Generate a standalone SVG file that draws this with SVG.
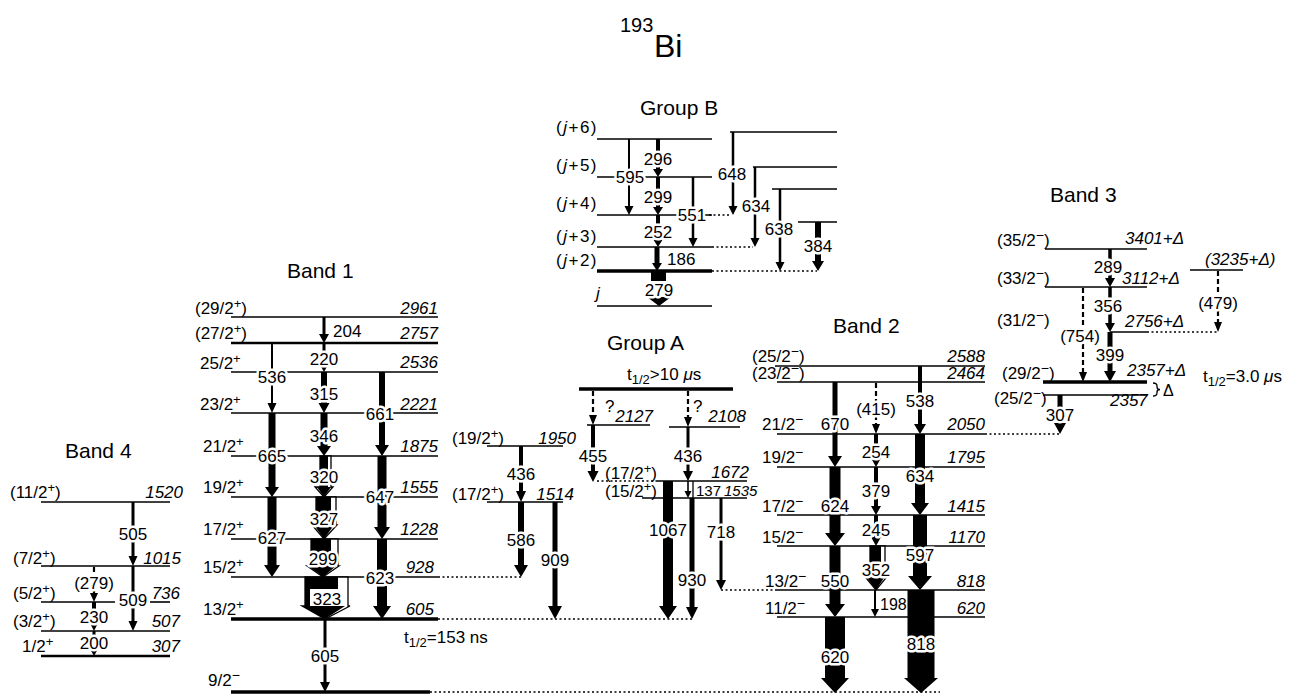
<svg xmlns="http://www.w3.org/2000/svg" width="1299" height="696" viewBox="0 0 1299 696">
<style>
text{font-family:"Liberation Sans",Arial,sans-serif;font-size:17px;fill:#000}
.lv{stroke:#000;stroke-width:1.6}
.tk{stroke:#000;stroke-width:3.5}
.dot{stroke:#000;stroke-width:1.6;stroke-dasharray:2 2.5}
.dsh{stroke:#000;stroke-width:2.2;stroke-dasharray:5 3}
.e{font-style:italic}
.r{text-anchor:end}
.n{text-anchor:middle;paint-order:stroke;stroke:#fff;stroke-width:5px;stroke-linejoin:round}
.ttl{font-size:21px}
.s{font-size:13px}
.m{font-size:14px}
.jl{letter-spacing:1.5px}
polygon{fill:#000}
.ic{fill:#fff;stroke:#000;stroke-width:1.3}
</style>
<rect width="1299" height="696" fill="#fff"/>
<g id="title"><text x="620" y="32" style="font-size:20px">193</text><text x="654" y="57" style="font-size:32px">Bi</text></g>

<!-- Band 4 -->
<g id="band4">
<text class="ttl" x="65" y="458">Band 4</text>
<g id="b4_1520"><line class="lv" x1="41" y1="502" x2="170" y2="502"/><text x="10" y="498">(11/2<tspan class="s" dy="-6">+</tspan><tspan dy="6">)</tspan></text><text class="e r" x="183" y="498">1520</text></g>
<g id="b4_1015"><line class="lv" x1="41" y1="566" x2="170" y2="566"/><text x="13" y="564">(7/2<tspan class="s" dy="-6">+</tspan><tspan dy="6">)</tspan></text><text class="e r" x="181" y="564">1015</text></g>
<g id="b4_736"><line class="lv" x1="41" y1="602" x2="115" y2="602"/><line class="lv" x1="150" y1="602" x2="170" y2="602"/><text x="13" y="599">(5/2<tspan class="s" dy="-6">+</tspan><tspan dy="6">)</tspan></text><text class="e r" x="180" y="599">736</text></g>
<g id="b4_507"><line class="lv" x1="41" y1="631" x2="170" y2="631"/><text x="13" y="627">(3/2<tspan class="s" dy="-6">+</tspan><tspan dy="6">)</tspan></text><text class="e r" x="180" y="627">507</text></g>
<g id="b4_307"><line class="lv" x1="41" y1="656" x2="170" y2="656" style="stroke-width:2.6"/><text x="22" y="652">1/2<tspan class="s" dy="-6">+</tspan></text><text class="e r" x="180" y="652">307</text></g>
</g>

<!-- Band 1 -->
<g id="band1">
<text class="ttl" x="287" y="278">Band 1</text>
<g id="b1_2961"><line class="lv" x1="231" y1="317" x2="438" y2="317"/><text x="195" y="314">(29/2<tspan class="s" dy="-6">+</tspan><tspan dy="6">)</tspan></text><text class="e r" x="438" y="314">2961</text></g>
<g id="b1_2757"><line class="lv" x1="231" y1="343" x2="438" y2="343" style="stroke-width:2.4"/><text x="195" y="339">(27/2<tspan class="s" dy="-6">+</tspan><tspan dy="6">)</tspan></text><text class="e r" x="438" y="339">2757</text></g>
<g id="b1_2536"><line class="lv" x1="231" y1="372" x2="438" y2="372"/><text x="200" y="369">25/2<tspan class="s" dy="-6">+</tspan></text><text class="e r" x="438" y="368">2536</text></g>
<g id="b1_2221"><line class="lv" x1="231" y1="413" x2="438" y2="413"/><text x="200" y="410">23/2<tspan class="s" dy="-6">+</tspan></text><text class="e r" x="438" y="410">2221</text></g>
<g id="b1_1875"><line class="lv" x1="231" y1="456" x2="438" y2="456"/><text x="203" y="452">21/2<tspan class="s" dy="-6">+</tspan></text><text class="e r" x="438" y="452">1875</text></g>
<g id="b1_1555"><line class="lv" x1="231" y1="497" x2="438" y2="497"/><text x="203" y="493">19/2<tspan class="s" dy="-6">+</tspan></text><text class="e r" x="438" y="493">1555</text></g>
<g id="b1_1228"><line class="lv" x1="231" y1="539" x2="438" y2="539"/><text x="203" y="535">17/2<tspan class="s" dy="-6">+</tspan></text><text class="e r" x="438" y="535">1228</text></g>
<g id="b1_928"><line class="lv" x1="231" y1="577" x2="438" y2="577"/><text x="203" y="573">15/2<tspan class="s" dy="-6">+</tspan></text><text class="e r" x="434" y="573">928</text></g>
<g id="b1_605"><line class="tk" x1="231" y1="619" x2="438" y2="619"/><text x="203" y="615">13/2<tspan class="s" dy="-6">+</tspan></text><text class="e r" x="434" y="615">605</text><text x="404" y="643">t<tspan class="s" dy="4">1/2</tspan><tspan dy="-4">=153 ns</tspan></text></g>
<g id="b1_gs"><line class="tk" x1="231" y1="692" x2="430" y2="692"/><text x="208" y="686">9/2<tspan class="m" dy="-6">−</tspan></text></g>
</g>

<!-- Group A -->
<g id="groupA">
<text class="ttl" x="607" y="350">Group A</text>
<g id="gA_iso"><line class="tk" x1="579" y1="389" x2="733" y2="389"/><text x="627" y="380">t<tspan class="s" dy="4">1/2</tspan><tspan dy="-4">&gt;10 </tspan><tspan class="e">μ</tspan>s</text></g>
<g id="gA_2127"><line class="lv" x1="587" y1="425" x2="650" y2="425"/><text class="e r" x="653" y="422">2127</text></g>
<g id="gA_2108"><line class="lv" x1="669" y1="427" x2="740" y2="427"/><text class="e r" x="746" y="422">2108</text></g>
<g id="gA_1950"><line class="lv" x1="487" y1="446" x2="563" y2="446"/><text x="452" y="444">(19/2<tspan class="s" dy="-6">+</tspan><tspan dy="6">)</tspan></text><text class="e r" x="576" y="444">1950</text></g>
<g id="gA_1514"><line class="lv" x1="487" y1="502" x2="563" y2="502"/><text x="452" y="500">(17/2<tspan class="s" dy="-6">+</tspan><tspan dy="6">)</tspan></text><text class="e r" x="574" y="500">1514</text></g>
<g id="gA_1672"><line class="lv" x1="657" y1="481" x2="747" y2="481"/><text x="605" y="479">(17/2<tspan class="s" dy="-6">+</tspan><tspan dy="6">)</tspan></text><text class="e r" x="749" y="478">1672</text></g>
<g id="gA_1535"><line class="lv" x1="642" y1="498" x2="747" y2="498"/><text x="605" y="497">(15/2<tspan class="s" dy="-6">+</tspan><tspan dy="6">)</tspan></text><text class="e" x="724" y="496" style="font-size:15px">1535</text></g>
</g>

<!-- Group B -->
<g id="groupB">
<text class="ttl" x="640" y="115">Group B</text>
<g id="gB_j6"><line class="lv" x1="597" y1="139" x2="712" y2="139"/><text class="jl" x="556" y="133">(<tspan class="e">j</tspan>+6)</text></g>
<g id="gB_j5"><line class="lv" x1="597" y1="177" x2="712" y2="177"/><text class="jl" x="556" y="171">(<tspan class="e">j</tspan>+5)</text></g>
<g id="gB_j4"><line class="lv" x1="597" y1="215" x2="712" y2="215"/><text class="jl" x="556" y="209">(<tspan class="e">j</tspan>+4)</text></g>
<g id="gB_j3"><line class="lv" x1="597" y1="247" x2="712" y2="247"/><text class="jl" x="556" y="242">(<tspan class="e">j</tspan>+3)</text></g>
<g id="gB_j2"><line class="tk" x1="597" y1="271" x2="712" y2="271"/><text class="jl" x="556" y="266">(<tspan class="e">j</tspan>+2)</text></g>
<g id="gB_j"><line class="lv" x1="597" y1="306" x2="712" y2="306"/><text class="e" x="596" y="299">j</text></g>
<g id="gB_r1"><line class="lv" x1="730" y1="132" x2="837" y2="132"/></g>
<g id="gB_r2"><line class="lv" x1="753" y1="167" x2="837" y2="167"/></g>
<g id="gB_r3"><line class="lv" x1="772" y1="189" x2="837" y2="189"/></g>
<g id="gB_r4"><line class="lv" x1="798" y1="222" x2="837" y2="222"/></g>
</g>

<!-- Band 2 -->
<g id="band2">
<text class="ttl" x="833" y="333">Band 2</text>
<g id="b2_2588"><line class="lv" x1="775" y1="366" x2="985" y2="366"/><text x="752" y="362">(25/2<tspan class="m" dy="-6">−</tspan><tspan dy="6">)</tspan></text><text class="e r" x="985" y="362">2588</text></g>
<g id="b2_2464"><line class="lv" x1="777" y1="382" x2="985" y2="382"/><text x="752" y="379">(23/2<tspan class="m" dy="-6">−</tspan><tspan dy="6">)</tspan></text><text class="e r" x="985" y="379">2464</text></g>
<g id="b2_2050"><line class="lv" x1="777" y1="434" x2="985" y2="434"/><text x="762" y="430">21/2<tspan class="m" dy="-6">−</tspan></text><text class="e r" x="985" y="430">2050</text></g>
<g id="b2_1795"><line class="lv" x1="777" y1="467" x2="985" y2="467"/><text x="762" y="463">19/2<tspan class="m" dy="-6">−</tspan></text><text class="e r" x="985" y="463">1795</text></g>
<g id="b2_1415"><line class="lv" x1="777" y1="515" x2="985" y2="515"/><text x="762" y="512">17/2<tspan class="m" dy="-6">−</tspan></text><text class="e r" x="985" y="512">1415</text></g>
<g id="b2_1170"><line class="lv" x1="777" y1="546" x2="985" y2="546"/><text x="762" y="543">15/2<tspan class="m" dy="-6">−</tspan></text><text class="e r" x="985" y="543">1170</text></g>
<g id="b2_818"><line class="lv" x1="777" y1="590" x2="985" y2="590"/><text x="765" y="587">13/2<tspan class="m" dy="-6">−</tspan></text><text class="e r" x="985" y="587">818</text></g>
<g id="b2_620"><line class="lv" x1="777" y1="617" x2="985" y2="617"/><text x="765" y="614">11/2<tspan class="m" dy="-6">−</tspan></text><text class="e r" x="985" y="614">620</text></g>
</g>

<!-- Band 3 -->
<g id="band3">
<text class="ttl" x="1050" y="202">Band 3</text>
<g id="b3_3401"><line class="lv" x1="1045" y1="249" x2="1147" y2="249"/><text x="997" y="246">(35/2<tspan class="m" dy="-6">−</tspan><tspan dy="6">)</tspan></text><text class="e" x="1125" y="244">3401+Δ</text></g>
<g id="b3_3112"><line class="lv" x1="1045" y1="287" x2="1147" y2="287"/><text x="997" y="284">(33/2<tspan class="m" dy="-6">−</tspan><tspan dy="6">)</tspan></text><text class="e" x="1122" y="284">3112+Δ</text></g>
<g id="b3_3235"><line class="lv" x1="1190" y1="270" x2="1243" y2="270"/><text class="e" x="1205" y="265">(3235+Δ)</text></g>
<g id="b3_2756"><line class="lv" x1="1110" y1="332" x2="1147" y2="332"/><text x="997" y="326">(31/2<tspan class="m" dy="-6">−</tspan><tspan dy="6">)</tspan></text><text class="e" x="1125" y="327">2756+Δ</text></g>
<g id="b3_2357d"><line class="tk" x1="1043" y1="382" x2="1147" y2="382"/><text x="1002" y="379">(29/2<tspan class="m" dy="-6">−</tspan><tspan dy="6">)</tspan></text><text class="e" x="1127" y="376">2357+Δ</text><text x="1203" y="382">t<tspan class="s" dy="4">1/2</tspan><tspan dy="-4">=3.0 </tspan><tspan class="e">μ</tspan>s</text></g>
<g id="b3_2357"><line class="lv" x1="1043" y1="395" x2="1147" y2="395"/><text x="994" y="404">(25/2<tspan class="m" dy="-6">−</tspan><tspan dy="6">)</tspan></text><text class="e" x="1110" y="406">2357</text><path d="M1153,383 q4,0 4,3 v1 q0,2.5 3,2.5 q-3,0 -3,2.5 v1 q0,3 -4,3" fill="none" stroke="#000" stroke-width="1.3"/><text x="1163" y="396" style="font-size:16px">Δ</text></g>
</g>

<!-- transitions -->
<g id="transitions">
<line class="dot" x1="438" y1="577" x2="521" y2="577"/>
<line class="dot" x1="438" y1="619" x2="692" y2="619"/>
<line class="dot" x1="430" y1="692" x2="940" y2="692"/>
<line class="dot" x1="721" y1="590" x2="777" y2="590"/>
<line class="dot" x1="985" y1="434" x2="1060" y2="434"/>
<line class="dot" x1="1147" y1="332" x2="1218" y2="332"/>
<line class="dot" x1="709" y1="215" x2="731" y2="215"/>
<line class="dot" x1="712" y1="247" x2="753" y2="247"/>
<line class="dot" x1="712" y1="271" x2="817" y2="271"/>
<line class="dot" x1="597" y1="481" x2="657" y2="481"/>
<line class="lv" x1="693" y1="481" x2="693" y2="498" style="stroke-width:1.3"/>

<!-- Band 4 -->
<polygon points="131.5,502 134.5,502 134.5,556 137.5,556 133,566 128.5,556 131.5,556"/>
<polygon points="131.5,566 134.5,566 134.5,621 137.5,621 133,631 128.5,621 131.5,621"/>
<line class="dsh" x1="94" y1="567" x2="94" y2="594"/><polygon points="90,593 98,593 94,602"/>
<polygon points="92,602 96,602 96,622 98.5,622 94,631 89.5,622 92,622"/>
<polygon points="92.5,631 95.5,631 95.5,648 98.5,648 94,656 89.5,648 92.5,648"/>
<text class="n" x="133" y="540">505</text>
<text class="n" x="133" y="606">509</text>
<text class="n" x="94" y="589">(279)</text>
<text class="n" x="94" y="623">230</text>
<text class="n" x="94" y="649">200</text>

<!-- Band 1 -->
<polygon points="322.5,317 325.5,317 325.5,334 329,334 324,343 319,334 322.5,334"/>
<polygon points="322.5,343 325.5,343 325.5,363 329,363 324,372 319,363 322.5,363"/>
<polygon points="271,343 273,343 273,403 276.5,403 272,413 267.5,403 271,403"/>
<polygon points="321,372 327,372 327,403 329.5,403 324,413 318.5,403 321,403"/>
<polygon points="379,372 385,372 385,445 389,445 382,456 375,445 379,445"/>
<polygon points="268.5,413 275.5,413 275.5,487 279,487 272,497 265,487 268.5,487"/>
<polygon points="320.5,413 327.5,413 327.5,446 331,446 324,456 317,446 320.5,446"/>
<polygon class="ic" points="320,456 331,456 331,487 333,487 324,497 315,487 320,487"/>
<polygon points="320,456 328,456 328,487 331,487 324,497 317,487 320,487"/>
<polygon points="377.5,456 386.5,456 386.5,527 390,527 382,539 374,527 377.5,527"/>
<polygon class="ic" points="316,497 336,497 336,525 337,525 324,539 312,525 316,525"/>
<polygon points="316,497 331,497 331,525 334,525 324,539 314,525 316,525"/>
<polygon points="267.5,497 276.5,497 276.5,565 280,565 272,577 264,565 267.5,565"/>
<polygon class="ic" points="311,539 338,539 338,566 339,566 323,577 307,566 311,566"/>
<polygon points="311,539 331,539 331,566 336,566 323,577 308,566 311,566"/>
<polygon points="377,539 387,539 387,606 391,606 382,619 373,606 377,606"/>
<polygon class="ic" points="305,577 348,577 348,606 350,606 325,619 302,606 305,606"/>
<polygon points="305,577 338,577 338,606 345,606 325,619 302,606 305,606"/>
<rect x="310" y="589" width="34" height="17" fill="#fff"/>
<polygon points="323.5,619 326.5,619 326.5,682 330,682 325,692 320,682 323.5,682"/>
<text class="n" x="333" y="337" style="text-anchor:start">204</text>
<text class="n" x="324" y="365">220</text>
<text class="n" x="272" y="383">536</text>
<text class="n" x="324" y="400">315</text>
<text class="n" x="380" y="420">661</text>
<text class="n" x="324" y="442">346</text>
<text class="n" x="272" y="462">665</text>
<text class="n" x="324" y="483">320</text>
<text class="n" x="380" y="503">647</text>
<text class="n" x="324" y="525">327</text>
<text class="n" x="272" y="544">627</text>
<text class="n" x="323" y="565">299</text>
<text class="n" x="380" y="584">623</text>
<text class="n" x="327" y="605" style="stroke:none">323</text>
<text class="n" x="325" y="662">605</text>

<!-- Group A -->
<line class="dsh" x1="593" y1="391" x2="593" y2="415"/><polygon points="589,415 597,415 593,425"/>
<line class="dsh" x1="688" y1="391" x2="688" y2="417"/><polygon points="684,417 692,417 688,427"/>
<text x="605" y="412">?</text><text x="693" y="412">?</text>
<polygon points="591,425 595,425 595,471 598.5,471 593,482 587.5,471 591,471"/>
<polygon points="686.5,427 689.5,427 689.5,471 693,471 688,481 683,471 686.5,471"/>
<polygon points="519,446 523,446 523,491 526,491 521,502 516,491 519,491"/>
<polygon points="687.2,481 688.8,481 688.8,491 691.5,491 688,498 684.5,491 687.2,491"/>
<polygon points="518,502 524,502 524,565 528,565 521,577 514,565 518,565"/>
<polygon points="552.5,502 557.5,502 557.5,606 562,606 555,619 548,606 552.5,606"/>
<polygon points="663,481 673,481 673,606 677,606 668,619 659,606 663,606"/>
<polygon points="689.5,498 694.5,498 694.5,607 698,607 692,619 686,607 689.5,607"/>
<polygon points="719.5,498 722.5,498 722.5,580 726,580 721,590 716,580 719.5,580"/>
<text class="n" x="593" y="462">455</text>
<text class="n" x="688" y="462">436</text>
<text class="n" x="521" y="480">436</text>
<text x="696" y="496" style="font-size:15px">137</text>
<text class="n" x="521" y="546">586</text>
<text class="n" x="555" y="566">909</text>
<text class="n" x="668" y="536">1067</text>
<text class="n" x="692" y="586">930</text>
<text class="n" x="721" y="538">718</text>

<!-- Group B -->
<polygon points="628,139 630,139 630,206 633.5,206 629,215 624.5,206 628,206"/>
<polygon points="656,139 660,139 660,169 663,169 658,177 653,169 656,169"/>
<polygon points="656,177 660,177 660,207 663,207 658,215 653,207 656,207"/>
<polygon points="691.75,177 694.25,177 694.25,238 697.5,238 693,247 688.5,238 691.75,238"/>
<polygon points="656,215 660,215 660,239 663,239 658,247 653,239 656,239"/>
<polygon points="654.5,247 659.5,247 659.5,263 662,263 657,271 652,263 654.5,263"/>
<rect x="651" y="271" width="15" height="10"/>
<polygon points="647,297 671,297 659,306"/>
<polygon points="731.75,132 734.25,132 734.25,206 737.5,206 733,215 728.5,206 731.75,206"/>
<polygon points="753.75,167 756.25,167 756.25,238 759.5,238 755,247 750.5,238 753.75,238"/>
<polygon points="778.75,189 781.25,189 781.25,262 784.5,262 780,271 775.5,262 778.75,262"/>
<polygon points="815,222 821,222 821,261 824,261 818,271 812,261 815,261"/>
<text class="n" x="630" y="183">595</text>
<text class="n" x="658" y="165">296</text>
<text class="n" x="658" y="203">299</text>
<text class="n" x="692" y="221">551</text>
<text class="n" x="658" y="238">252</text>
<text class="n" x="667" y="265" style="text-anchor:start">186</text>
<text class="n" x="659" y="296">279</text>
<text class="n" x="732" y="180">648</text>
<text class="n" x="756" y="212">634</text>
<text class="n" x="779" y="235">638</text>
<text class="n" x="818" y="252">384</text>

<!-- Band 2 -->
<polygon points="832.5,382 837.5,382 837.5,456 842,456 835,467 828,456 832.5,456"/>
<line class="dsh" x1="876" y1="383" x2="876" y2="424"/><polygon points="872,424 880,424 876,434"/>
<polygon points="918,366 922,366 922,424 926,424 920,434 914,424 918,424"/>
<polygon points="874,434 878,434 878,458 881,458 876,467 871,458 874,458"/>
<polygon points="915,434 925,434 925,503 929,503 920,515 911,503 915,503"/>
<polygon points="874,467 878,467 878,506 881,506 876,515 871,506 874,506"/>
<polygon points="829.5,467 840.5,467 840.5,533 845,533 835,546 825,533 829.5,533"/>
<polygon points="874,515 878,515 878,537 881,537 876,546 871,537 874,537"/>
<polygon points="913,515 927,515 927,576 932,576 920,590 908,576 913,576"/>
<polygon class="ic" points="870,546 885,546 885,578 886,578 876,590 866,578 870,578"/>
<polygon points="870,546 881,546 881,578 884,578 876,590 867,578 870,578"/>
<polygon points="829.5,546 840.5,546 840.5,604 845,604 835,617 825,604 829.5,604"/>
<polygon points="874,590 876,590 876,609 879,609 875,617 871,609 874,609"/>
<polygon points="825,617 845,617 845,678 849,678 835,693 821,678 825,678"/>
<polygon points="907.5,590 934.5,590 934.5,678 938,678 921,693 904,678 907.5,678"/>
<text class="n" x="835" y="430">670</text>
<text class="n" x="876" y="415">(415)</text>
<text class="n" x="920" y="407">538</text>
<text class="n" x="876" y="458">254</text>
<text class="n" x="920" y="482">634</text>
<text class="n" x="876" y="497">379</text>
<text class="n" x="835" y="512">624</text>
<text class="n" x="876" y="536">245</text>
<text class="n" x="920" y="561">597</text>
<text class="n" x="876" y="576">352</text>
<text class="n" x="835" y="587">550</text>
<text x="880" y="610" style="font-size:16px">198</text>
<text class="n" x="835" y="663">620</text>
<text class="n" x="921" y="650">818</text>

<!-- Band 3 -->
<polygon points="1108.25,249 1111.75,249 1111.75,278 1115,278 1110,287 1105,278 1108.25,278"/>
<polygon points="1108.25,287 1111.75,287 1111.75,323 1115,323 1110,332 1105,323 1108.25,323"/>
<polygon points="1107.5,332 1112.5,332 1112.5,371 1116,371 1110,382 1104,371 1107.5,371"/>
<line class="dsh" x1="1083" y1="288" x2="1083" y2="372"/><polygon points="1079,372 1087,372 1083,382"/>
<line class="dsh" x1="1218" y1="271" x2="1218" y2="322"/><polygon points="1214,322 1222,322 1218,332"/>
<polygon points="1057.5,395 1062.5,395 1062.5,423 1066,423 1060,434 1054,423 1057.5,423"/>
<text class="n" x="1108" y="273">289</text>
<text class="n" x="1108" y="312">356</text>
<text class="n" x="1080" y="342">(754)</text>
<text class="n" x="1110" y="361">399</text>
<text class="n" x="1218" y="309">(479)</text>
<text class="n" x="1060" y="421">307</text>
</g>
</svg>
